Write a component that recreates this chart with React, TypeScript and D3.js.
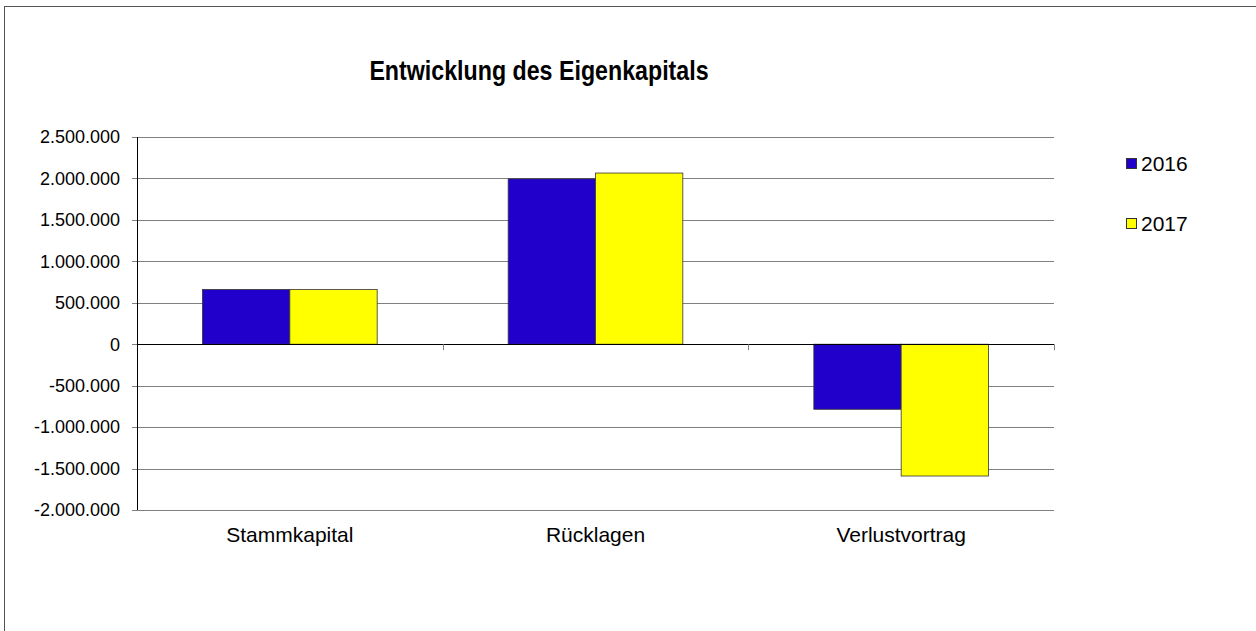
import React from "react";
import * as d3 from "d3";

const categories = ["Stammkapital", "Rücklagen", "Verlustvortrag"];
const seriesNames = ["2016", "2017"];
const values2016 = [660000, 1995000, -785000];
const values2017 = [660000, 2065000, -1590000];
const yTicks = [-2000000, -1500000, -1000000, -500000, 0, 500000, 1000000, 1500000, 2000000, 2500000];
const colors = ["#2200CC", "#FFFF00"];

const W = 1256;
const H = 631;
const plot = { left: 137, right: 1054, top: 137, bottom: 510 };

const fmt = (v: number) => {
  const s = d3.format(",")(Math.abs(v)).replace(/,/g, ".");
  return v < 0 ? "-" + s : s;
};

export default function App() {
  const y = d3.scaleLinear().domain([-2000000, 2500000]).range([plot.bottom, plot.top]);
  const x0 = d3.scaleBand<string>().domain(categories).range([plot.left, plot.right]).paddingInner(0).paddingOuter(0);
  const bw = x0.bandwidth();
  const groupW = bw / (2 + 1.5) * 2;
  const x1 = d3.scaleBand<string>().domain(seriesNames).range([0, groupW]).padding(0);
  const series = [values2016, values2017];
  const font = "'Liberation Sans', Arial, sans-serif";
  const zeroY = y(0);

  return (
    <svg width={W} height={H} style={{ position: "absolute", left: 0, top: 0, background: "#fff" }} fontFamily={font}>
      <rect x={4.5} y={6.5} width={W + 20} height={H + 20} fill="#fff" stroke="#555" strokeWidth={1} />
      <g transform="translate(539,80) scale(0.86,1)">
        <text x={0} y={0} textAnchor="middle" fontSize={27} fontWeight="bold" fill="#000">
          Entwicklung des Eigenkapitals
        </text>
      </g>
      {yTicks.map((t) => (
        <g key={t}>
          {t !== 0 && (
            <line x1={plot.left} x2={plot.right} y1={Math.round(y(t)) + 0.5} y2={Math.round(y(t)) + 0.5} stroke="#808080" strokeWidth={1} />
          )}
          <line x1={plot.left - 5} x2={plot.left} y1={Math.round(y(t)) + 0.5} y2={Math.round(y(t)) + 0.5} stroke="#808080" strokeWidth={1} />
          <text x={120} y={y(t)} dy="0.35em" textAnchor="end" fontSize={18} fill="#000">
            {fmt(t)}
          </text>
        </g>
      ))}
      {categories.map((c, i) =>
        series.map((vals, s) => {
          const v = vals[i];
          const bx = (x0(c) as number) + (bw - groupW) / 2 + (x1(seriesNames[s]) as number);
          const y0 = Math.min(y(v), zeroY);
          const h = Math.abs(y(v) - zeroY);
          return (
            <rect key={c + s} x={bx} y={y0} width={x1.bandwidth()} height={h} fill={colors[s]} stroke="#333" strokeWidth={0.8} />
          );
        })
      )}
      <line x1={plot.left + 0.5} x2={plot.left + 0.5} y1={plot.top} y2={plot.bottom} stroke="#000" strokeWidth={1} />
      <line x1={plot.left} x2={plot.right} y1={Math.round(zeroY) + 0.5} y2={Math.round(zeroY) + 0.5} stroke="#000" strokeWidth={1} />
      {[0, 1, 2, 3].map((k) => {
        const tx = Math.round(plot.left + k * bw) + 0.5;
        return k === 0 ? null : (
          <line key={k} x1={tx} x2={tx} y1={zeroY} y2={zeroY + 6} stroke="#808080" strokeWidth={1} />
        );
      })}
      {categories.map((c) => (
        <text key={c} x={(x0(c) as number) + bw / 2} y={535} dy="0.35em" textAnchor="middle" fontSize={21} fill="#000">
          {c}
        </text>
      ))}
      {seriesNames.map((n, s) => (
        <g key={n}>
          <rect x={1126.5} y={158.5 + s * 60} width={10} height={10} fill={colors[s]} stroke="#333" strokeWidth={1} />
          <text x={1141} y={164 + s * 60} dy="0.35em" fontSize={21} fill="#000">
            {n}
          </text>
        </g>
      ))}
    </svg>
  );
}
